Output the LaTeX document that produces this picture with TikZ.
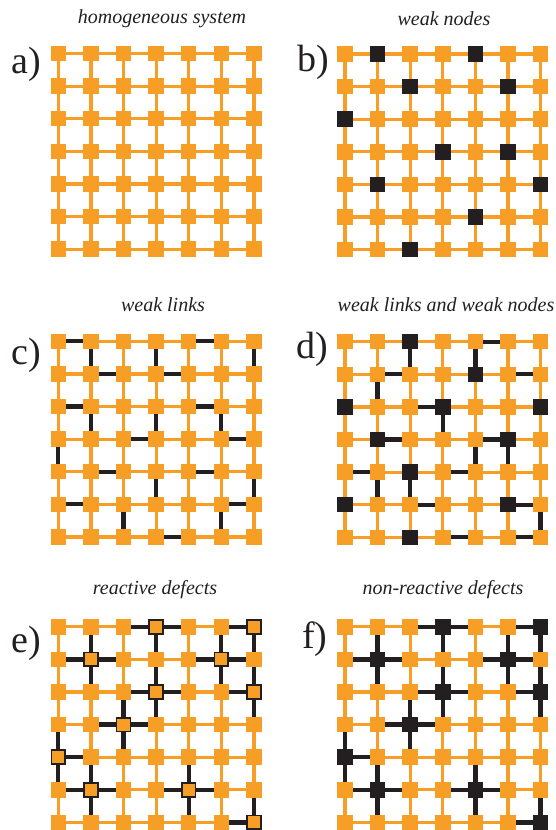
\documentclass[tikz,border=0pt]{standalone}
\usepackage{fontspec}
\setmainfont{Liberation Serif}
\definecolor{org}{RGB}{247,158,38}
\definecolor{blk}{RGB}{35,31,32}
\newcommand\gx{32.6}
\tikzset{
  onode/.style={rectangle, fill=org, draw=none, minimum size=15.5pt, inner sep=0pt, outer sep=0pt},
  wnode/.style={rectangle, fill=blk, draw=none, minimum size=15.5pt, inner sep=0pt, outer sep=0pt},
  rnode/.style={rectangle, fill=org, draw=blk, line width=1.7pt, minimum size=13.8pt, inner sep=0pt, outer sep=0pt},
  olink/.style={draw=org, line width=3.2pt},
  wlink/.style={draw=blk, line width=4.3pt},
  ttl/.style={font=\fontsize{20}{23}\selectfont\itshape, text=blk, inner sep=0pt},
  lbl/.style={font=\fontsize{38}{40}\selectfont, text=blk, anchor=west, inner sep=0pt}
}
% orange nodes of a panel, skipping the marked special positions
\newcommand\orangenodes[3]{%
  \foreach \r in {0,...,6}{\foreach \c in {0,...,6}{%
    \ifcsname sp-#1-\r-\c\endcsname\else
      \node[onode] (#1-\r-\c) at ({#2+\gx*\c},{#3+\gx*\r}) {};
    \fi}}%
}
\newcommand\marknodes[2]{%
  \foreach \r/\c in #2 {\expandafter\gdef\csname sp-#1-\r-\c\endcsname{}}%
}
\newcommand\specialnodes[5]{% name, x0, y0, list, style
  \foreach \r/\c in #4 {\node[#5] (#1-\r-\c) at ({#2+\gx*\c},{#3+\gx*\r}) {};}%
}
\newcommand\orangelinks[1]{%
  \foreach \r in {0,...,6}{\foreach \c [evaluate=\c as \n using int(\c+1)] in {0,...,5}{%
    \draw[olink] (#1-\r-\c) -- (#1-\r-\n);
    \draw[olink] (#1-\c-\r) -- (#1-\n-\r);}}%
}
\newcommand\hlinks[2]{%
  \foreach \r/\c in #2 {\pgfmathtruncatemacro\n{\c+1}\draw[wlink] (#1-\r-\c) -- (#1-\r-\n);}%
}
\newcommand\vlinks[2]{%
  \foreach \r/\c in #2 {\pgfmathtruncatemacro\n{\r+1}\draw[wlink] (#1-\r-\c) -- (#1-\n-\c);}%
}
\newcommand\defectlinks[2]{%
  \foreach \r/\c in #2 {%
    \pgfmathtruncatemacro\cm{\c-1}\pgfmathtruncatemacro\cp{\c+1}%
    \pgfmathtruncatemacro\rm{\r-1}\pgfmathtruncatemacro\rp{\r+1}%
    \ifnum\c>0 \draw[wlink] (#1-\r-\c) -- (#1-\r-\cm);\fi
    \ifnum\c<6 \draw[wlink] (#1-\r-\c) -- (#1-\r-\cp);\fi
    \ifnum\r>0 \draw[wlink] (#1-\r-\c) -- (#1-\rm-\c);\fi
    \ifnum\r<6 \draw[wlink] (#1-\r-\c) -- (#1-\rp-\c);\fi
  }%
}
\def\bnodes{0/1,0/4,1/2,1/5,2/0,3/3,3/5,4/1,4/6,5/4,6/2}
\def\dnodes{0/2,1/4,2/0,2/3,2/6,3/1,3/5,4/2,5/0,5/5,6/2}
\def\enodes{0/3,0/6,1/1,1/5,2/3,2/6,3/2,4/0,5/1,5/4,6/6}
\begin{document}
\begin{tikzpicture}[x=1pt,y=-1pt]
\useasboundingbox (0,0) rectangle (556,830);
% titles
\node[ttl] (ta) at (162,19) {homogeneous system};
\node[ttl] (tb) at (444,19) {weak nodes};
\node[ttl] (tc) at (163,305) {weak links};
\node[ttl] (td) at (446,305) {weak links and weak nodes};
\node[ttl] (te) at (155,590) {reactive defects};
\node[ttl] (tf) at (443,590) {non-reactive defects};
% panel labels
\node[lbl] (la) at (11,64) {a)};
\node[lbl] (lb) at (297,62) {b)};
\node[lbl] (lc) at (11,355) {c)};
\node[lbl] (ld) at (296,349) {d)};
\node[lbl] (le) at (11,643) {e)};
\node[lbl] (lf) at (302,639) {f)};
% marks for special nodes
\marknodes{b}{\bnodes}
\marknodes{d}{\dnodes}
\marknodes{e}{\enodes}
\marknodes{f}{\enodes}
% a) homogeneous
\orangenodes{a}{58.3}{53.5}
\orangelinks{a}
% b) weak nodes
\orangenodes{b}{345}{54}
\specialnodes{b}{345}{54}{\bnodes}{wnode}
\orangelinks{b}
% c) weak links
\orangenodes{c}{58.3}{341.3}
\orangelinks{c}
\hlinks{c}{{0/0,0/4,1/1,1/3,2/0,2/4,3/2,3/5,4/1,4/4,5/0,5/5,6/3}}
\vlinks{c}{{0/1,0/3,0/6,2/1,2/3,2/5,3/0,4/3,4/6,5/2,5/5}}
% d) weak links and weak nodes
\orangenodes{d}{345}{341.7}
\specialnodes{d}{345}{341.7}{\dnodes}{wnode}
\orangelinks{d}
\hlinks{d}{{0/4,1/1,1/5,2/2,3/1,3/4,4/0,4/3,5/2,5/5,6/3,6/5}}
\vlinks{d}{{0/2,0/4,1/1,2/3,3/4,3/5,4/1,4/2,5/6}}
% e) reactive defects
\orangenodes{e}{58.3}{626.8}
\specialnodes{e}{58.3}{626.8}{\enodes}{rnode}
\orangelinks{e}
\defectlinks{e}{\enodes}
% f) non-reactive defects
\orangenodes{f}{345}{626.8}
\specialnodes{f}{345}{626.8}{\enodes}{wnode}
\orangelinks{f}
\defectlinks{f}{\enodes}
\end{tikzpicture}
\end{document}
